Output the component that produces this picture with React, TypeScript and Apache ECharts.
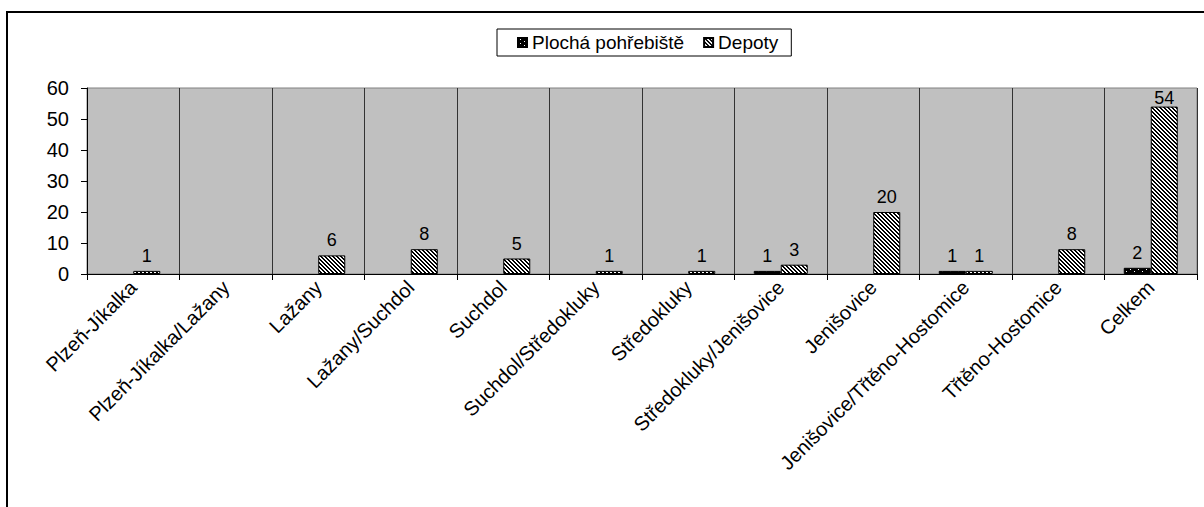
import React, { useEffect, useRef } from "react";
import * as echarts from "echarts";

const categories = [
  "Plzeň-Jíkalka",
  "Plzeň-Jíkalka/Lažany",
  "Lažany",
  "Lažany/Suchdol",
  "Suchdol",
  "Suchdol/Středokluky",
  "Středokluky",
  "Středokluky/Jenišovice",
  "Jenišovice",
  "Jenišovice/Třtěno-Hostomice",
  "Třtěno-Hostomice",
  "Celkem",
];
const plochaPohrebiste = [0, 0, 0, 0, 0, 0, 0, 1, 0, 1, 0, 2];
const depoty = [1, 0, 6, 8, 5, 1, 1, 3, 20, 1, 8, 54];
const seriesNames = ["Plochá pohřebiště", "Depoty"];
const yTicks = { min: 0, max: 60, interval: 10 };

const FONT = "Arial, 'Liberation Sans', sans-serif";

function hatchPattern(): HTMLCanvasElement {
  const c = document.createElement("canvas");
  c.width = 4;
  c.height = 4;
  const ctx = c.getContext("2d")!;
  ctx.fillStyle = "#ffffff";
  ctx.fillRect(0, 0, 4, 4);
  ctx.fillStyle = "#000000";
  for (let y = 0; y < 4; y++) {
    ctx.fillRect(y % 4, y, 1, 1);
    ctx.fillRect((y + 1) % 4, y, 1, 1);
  }
  return c;
}

function dotPattern(): HTMLCanvasElement {
  const c = document.createElement("canvas");
  c.width = 8;
  c.height = 4;
  const ctx = c.getContext("2d")!;
  ctx.fillStyle = "#000000";
  ctx.fillRect(0, 0, 8, 4);
  ctx.fillStyle = "#ffffff";
  ctx.fillRect(2, 1, 1, 1);
  ctx.fillRect(6, 3, 1, 1);
  return c;
}

function toData(values: number[]) {
  return values.map((v) => {
    if (!v) return null;
    if (v >= 50) return { value: v, label: { distance: 0 } };
    return v;
  });
}

export default function App() {
  const ref = useRef<HTMLDivElement>(null);

  useEffect(() => {
    document.body.style.margin = "0";
    if (!ref.current) return;
    const chart = echarts.init(ref.current, null, { renderer: "svg" });

    const dots = { image: dotPattern(), repeat: "repeat" } as any;
    const hatch = { image: hatchPattern(), repeat: "repeat" } as any;

    const labelCfg = {
      show: true,
      position: "top",
      distance: 6,
      color: "#000",
      fontSize: 18,
      fontFamily: FONT,
    };

    chart.setOption({
      animation: false,
      backgroundColor: "#ffffff",
      textStyle: { fontFamily: FONT },
      graphic: [
        {
          type: "rect",
          shape: { x: 7, y: 12, width: 1210, height: 520 },
          style: { fill: "none", stroke: "#000", lineWidth: 2 },
          silent: true,
          z: -10,
        },
      ],
      legend: {
        left: 497,
        top: 29,
        orient: "horizontal",
        padding: [4, 13, 4, 20],
        itemGap: 19,
        itemWidth: 9,
        itemHeight: 9,
        borderColor: "#000",
        borderWidth: 1,
        backgroundColor: "#fff",
        icon: "rect",
        textStyle: { fontSize: 19, color: "#000", fontFamily: FONT },
        data: seriesNames,
      },
      grid: {
        left: 87,
        right: 7,
        top: 88,
        bottom: 233,
        show: true,
        backgroundColor: "#C0C0C0",
        borderColor: "#808080",
        borderWidth: 1,
        containLabel: false,
      },
      xAxis: {
        type: "category",
        data: categories,
        boundaryGap: true,
        axisLine: { show: true, lineStyle: { color: "#000", width: 1 } },
        axisTick: { show: true, length: 6, interval: 0, lineStyle: { color: "#000" } },
        splitLine: { show: true, interval: 0, lineStyle: { color: "#333", width: 1 } },
        axisLabel: {
          interval: 0,
          rotate: 45,
          margin: 10,
          fontSize: 20,
          color: "#000",
          fontFamily: FONT,
        },
      },
      yAxis: {
        type: "value",
        min: yTicks.min,
        max: yTicks.max,
        interval: yTicks.interval,
        axisLine: { show: true, lineStyle: { color: "#000", width: 1 } },
        axisTick: { show: true, length: 6, lineStyle: { color: "#000" } },
        splitLine: { show: false },
        axisLabel: { fontSize: 20, color: "#000", margin: 18, fontFamily: FONT },
      },
      series: [
        {
          name: seriesNames[0],
          type: "bar",
          data: toData(plochaPohrebiste),
          barWidth: 27,
          barGap: "0%",
          itemStyle: { color: dots, borderColor: "#000", borderWidth: 1 },
          label: labelCfg,
        },
        {
          name: seriesNames[1],
          type: "bar",
          data: toData(depoty),
          barWidth: 27,
          barGap: "0%",
          itemStyle: { color: hatch, borderColor: "#000", borderWidth: 1 },
          label: labelCfg,
        },
      ],
    });

    return () => chart.dispose();
  }, []);

  return <div ref={ref} style={{ width: 1204, height: 507 }} />;
}
